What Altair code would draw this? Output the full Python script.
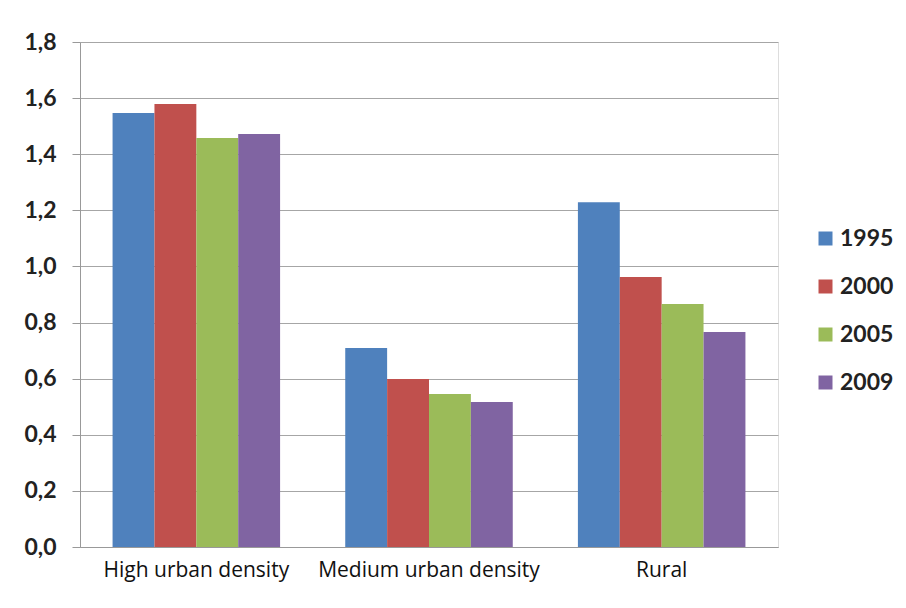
import altair as alt
import pandas as pd

categories = ["High urban  density", "Medium urban density", "Rural"]
years = ["1995", "2000", "2005", "2009"]
values = {
    "1995": [1.547, 0.709, 1.229],
    "2000": [1.579, 0.599, 0.962],
    "2005": [1.458, 0.545, 0.866],
    "2009": [1.472, 0.517, 0.766],
}
colors = ["#4F81BD", "#C0504D", "#9BBB59", "#8064A2"]

rows = []
for y in years:
    for c, v in zip(categories, values[y]):
        rows.append({"category": c, "year": y, "value": v})
df = pd.DataFrame(rows)

chart = alt.Chart(df).mark_bar().encode(
    x=alt.X("category:N", sort=categories, title=None,
            scale=alt.Scale(paddingInner=0.28, paddingOuter=0.14),
            axis=alt.Axis(labelAngle=0, labelFontSize=21, labelFont="Open Sans",
                          labelColor="#111", ticks=False, labelPadding=12,
                          labelLimit=400, labelOverlap=False,
                          domainColor="#999", grid=False)),
    xOffset=alt.XOffset("year:N", sort=years),
    y=alt.Y("value:Q", title=None,
            scale=alt.Scale(domain=[0, 1.8], nice=False),
            axis=alt.Axis(values=[0, 0.2, 0.4, 0.6, 0.8, 1.0, 1.2, 1.4, 1.6, 1.8],
                          labelExpr="replace(format(datum.value, '.1f'), '.', ',')",
                          labelFontSize=23, labelFontWeight="bold", labelFont="Lato",
                          labelColor="#222", tickSize=8, tickColor="#999",
                          domainColor="#999", gridColor="#a6a6a6", labelPadding=16)),
    color=alt.Color("year:N", sort=years,
                    scale=alt.Scale(domain=years, range=colors),
                    legend=alt.Legend(title=None, orient="none", legendX=734, legendY=185,
                                      symbolType="square", symbolSize=196,
                                      symbolStrokeWidth=0, labelFontSize=23,
                                      labelFontWeight="bold", labelFont="Lato",
                                      labelColor="#222", rowPadding=24, labelOffset=3,
                                      labelLimit=200)),
).properties(
    width=698, height=505,
    autosize=alt.AutoSizeParams(type="none"),
    padding={"left": 72, "top": 34, "right": 120, "bottom": 52},
).configure_view(stroke=None).configure(background="white")

chart.save("out.html", embed_options={"renderer": "svg", "actions": False})
